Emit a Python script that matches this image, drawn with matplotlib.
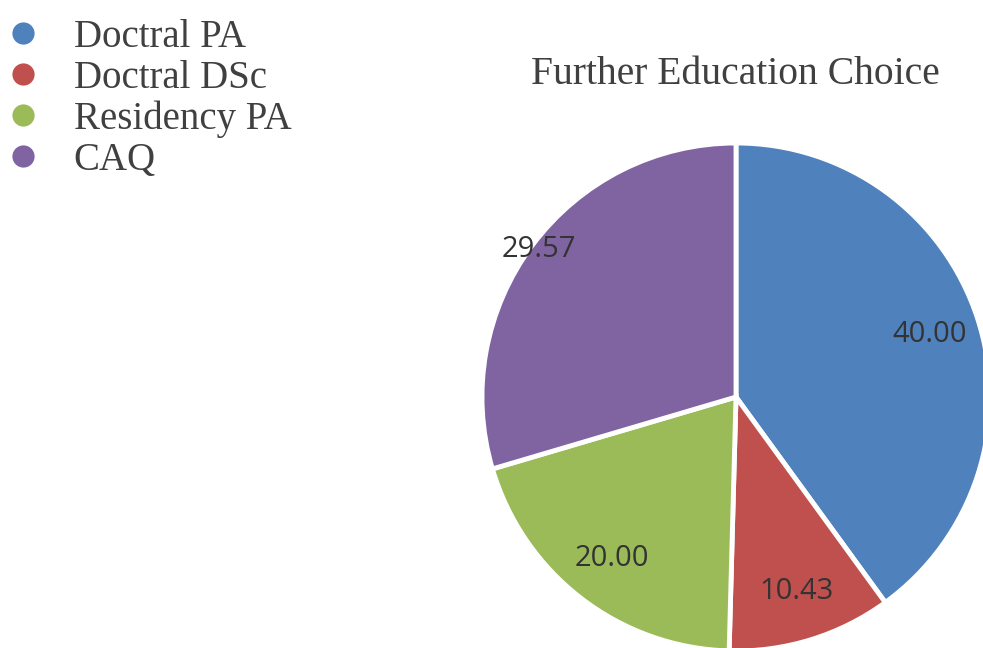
import matplotlib.pyplot as plt
from matplotlib.lines import Line2D
import numpy as np

categories = ["Doctral PA", "Doctral DSc", "Residency PA", "CAQ"]
shares = [40.00, 10.43, 20.00, 29.57]
colors = ["#4F81BD", "#C0504D", "#9BBB59", "#8064A2"]
label_dist = [0.8, 0.8, 0.8, 0.97]  # excel "best fit" pushed CAQ outwards

fig = plt.figure(figsize=(9.83, 6.48), dpi=100)

# pie axes: centre ~ (736, 397) px, radius ~254 px
r_px = 254
ax = fig.add_axes([(736 - r_px) / 983, (648 - 397 - r_px) / 648,
                   2 * r_px / 983, 2 * r_px / 648])
wedges, _ = ax.pie(shares, colors=colors, startangle=90, counterclock=False,
                   wedgeprops=dict(edgecolor="white", linewidth=3.5))
ax.set_xlim(-1, 1)
ax.set_ylim(-1, 1)
ax.set_aspect("equal")

for w, v, d in zip(wedges, shares, label_dist):
    ang = np.deg2rad((w.theta1 + w.theta2) / 2)
    ax.text(d * np.cos(ang), d * np.sin(ang), f"{v:.2f}", ha="center", va="center",
            fontsize=21, family="Open Sans", color="#333333")

fig.text(735 / 983, 1 - 75 / 648, "Further Education Choice", ha="center", va="center",
         fontsize=28.5, family="Liberation Serif", color="#404040")

handles = [Line2D([], [], marker="o", linestyle="none", markersize=17,
                  markerfacecolor=c, markeredgecolor="white") for c in colors]
fig.legend(handles, categories, loc="upper left", bbox_to_anchor=(-10 / 983, 1 - 5 / 648),
           frameon=False, prop={"family": "Liberation Serif", "size": 28},
           labelcolor="#404040", labelspacing=0.1, handletextpad=0.8,
           borderaxespad=0.0, borderpad=0.35, handlelength=1.0)

fig.savefig("out.png", dpi=100)
